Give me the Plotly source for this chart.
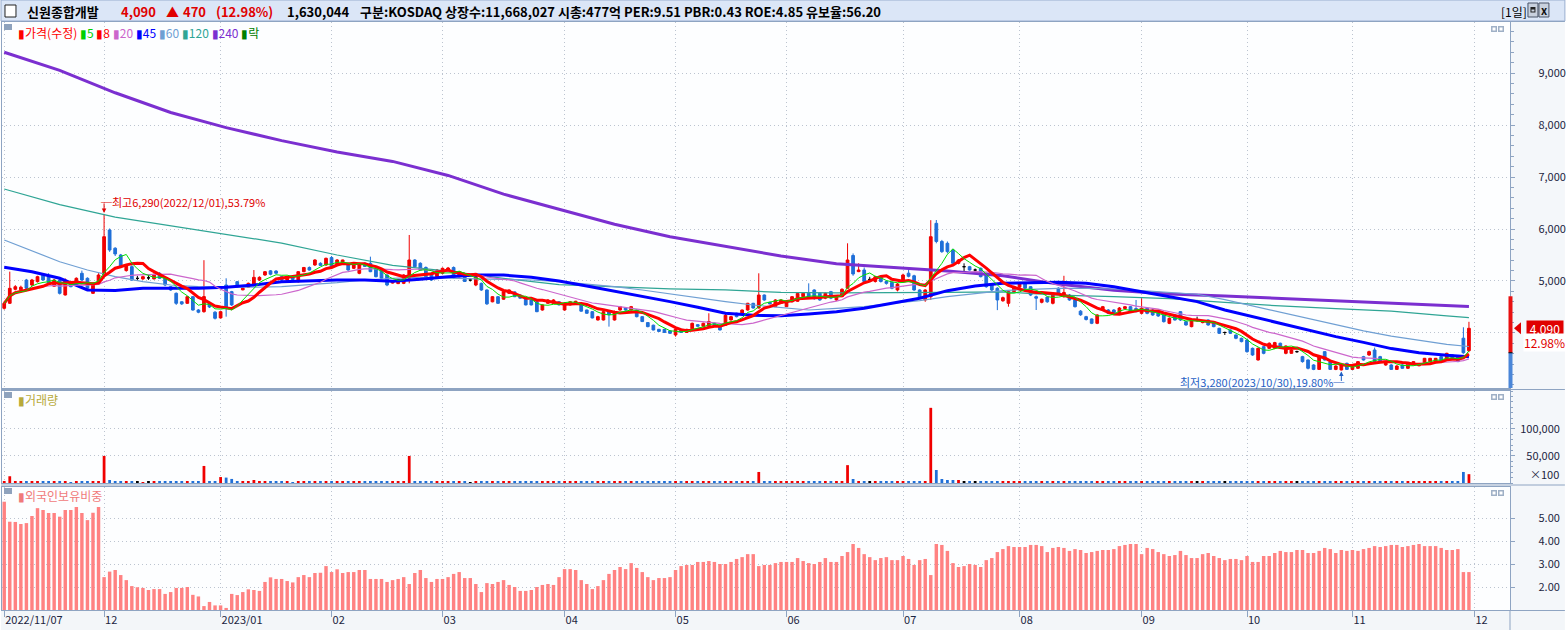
import numpy as np
import pandas as pd
import plotly.graph_objects as go
from plotly.subplots import make_subplots

# KRX trading calendar 2022/11/07 ~ 2023/11/30
holidays = ["2022-12-30", "2023-01-23", "2023-01-24", "2023-03-01", "2023-05-01",
            "2023-05-05", "2023-05-29", "2023-06-06", "2023-08-15", "2023-09-28",
            "2023-09-29", "2023-10-02", "2023-10-03", "2023-10-09"]
dates = pd.bdate_range("2022-11-07", "2023-11-30", freq="C", holidays=holidays)

opens = [
    4475, 4571, 4840, 4830, 5019, 4923, 4987, 5130, 5083, 4900,
    5019, 4731, 4987, 4955, 5148, 5052, 4763, 4955, 5115, 5981,
    5630, 5500, 5200, 5275, 5050, 5040, 5060, 5040, 5148, 5052,
    4890, 4763, 4600, 4571, 4698, 4442, 4410, 4571, 4400, 4290,
    4923, 4795, 4987, 4830, 4880, 4923, 5019, 5115, 5195, 5190,
    5083, 5019, 5083, 4987, 5179, 5260, 5308, 5340, 5308, 5450,
    5308, 5340, 5340, 5244, 5148, 5340, 5340, 5244, 5211, 5115,
    4960, 4950, 4955, 5052, 5404, 5340, 5260, 5148, 5083, 5148,
    5200, 5260, 5083, 5120, 5019, 4923, 4955, 4827, 4600, 4698,
    4650, 4763, 4790, 4730, 4670, 4635, 4600, 4442, 4571, 4571,
    4600, 4442, 4540, 4580, 4571, 4442, 4410, 4250, 4250, 4410,
    4250, 4442, 4480, 4442, 4442, 4314, 4200, 4150, 4070, 4070,
    4040, 3962, 4070, 4010, 4080, 4160, 4130, 4130, 4190, 4150,
    4150, 4250, 4379, 4379, 4442, 4571, 4480, 4730, 4590, 4506,
    4571, 4506, 4600, 4610, 4698, 4763, 4827, 4763, 4670, 4795,
    4635, 4700, 4860, 5490, 5180, 5211, 5030, 4990, 5083, 4990,
    4975, 4827, 5019, 5150, 5100, 4827, 4635, 4698, 6109, 5760,
    5725, 5596, 5340, 5275, 5275, 5211, 5244, 5148, 4920, 4860,
    4620, 4571, 4795, 4880, 4955, 4890, 4698, 4590, 4690, 4571,
    4860, 4698, 4730, 4635, 4420, 4314, 4270, 4186, 4442, 4442,
    4442, 4379, 4470, 4506, 4470, 4378, 4474, 4442, 4410, 4346,
    4186, 4346, 4410, 4218, 4122, 4250, 4200, 4250, 4218, 4090,
    4010, 4058, 3962, 3898, 3866, 3705, 3481, 3737, 3705, 3705,
    3802, 3609, 3609, 3641, 3545, 3481, 3385, 3300, 3641, 3449,
    3300, 3290, 3417, 3300, 3321, 3545, 3577, 3673, 3545, 3385,
    3385, 3300, 3385, 3321, 3404, 3370, 3404, 3449, 3449, 3545,
    3481, 3577, 3545, 3900, 3660]
highs = [
    4600, 5180, 4920, 4910, 5040, 5040, 5100, 5150, 5150, 5040,
    5040, 5050, 5000, 5070, 5200, 5070, 4970, 5150, 6290, 6010,
    5650, 5520, 5320, 5300, 5100, 5100, 5110, 5140, 5170, 5060,
    4900, 4780, 4610, 4710, 4710, 4460, 5400, 4600, 4420, 4420,
    5052, 4810, 5000, 4870, 4970, 5211, 5090, 5190, 5210, 5210,
    5100, 5100, 5100, 5190, 5270, 5280, 5420, 5360, 5450, 5480,
    5420, 5410, 5350, 5320, 5350, 5360, 5468, 5260, 5230, 5130,
    5000, 5040, 5130, 5885, 5420, 5360, 5280, 5160, 5230, 5260,
    5270, 5280, 5190, 5130, 5050, 5090, 4970, 4840, 4710, 4710,
    4810, 4840, 4800, 4740, 4680, 4650, 4610, 4550, 4650, 4650,
    4610, 4590, 4610, 4620, 4580, 4450, 4420, 4330, 4420, 4420,
    4430, 4520, 4490, 4520, 4450, 4320, 4210, 4160, 4080, 4080,
    4050, 4080, 4080, 4080, 4200, 4170, 4200, 4379, 4200, 4160,
    4379, 4330, 4390, 4450, 4580, 4580, 5148, 4740, 4600, 4650,
    4650, 4610, 4710, 4770, 4780, 4955, 4840, 4780, 4780, 4810,
    4720, 4860, 5725, 5530, 5340, 5260, 5080, 5100, 5100, 5010,
    4990, 4960, 5140, 5211, 5120, 4840, 4840, 6170, 6173, 5790,
    5760, 5620, 5420, 5340, 5290, 5240, 5260, 5160, 4940, 4880,
    4700, 4810, 4910, 4970, 4970, 4900, 4720, 4660, 4700, 4780,
    4880, 5100, 4750, 4650, 4440, 4330, 4280, 4360, 4520, 4460,
    4460, 4500, 4520, 4520, 4635, 4667, 4490, 4460, 4420, 4360,
    4300, 4360, 4420, 4230, 4260, 4314, 4250, 4260, 4230, 4100,
    4026, 4070, 3970, 3910, 3880, 3720, 3720, 3750, 3820, 3830,
    3815, 3760, 3690, 3660, 3560, 3490, 3400, 3560, 3650, 3460,
    3380, 3400, 3430, 3365, 3460, 3560, 3660, 3720, 3560, 3460,
    3400, 3380, 3400, 3430, 3460, 3420, 3520, 3520, 3520, 3560,
    3620, 3590, 3560, 4110, 4215]
lows = [
    4450, 4560, 4820, 4810, 4840, 4900, 4970, 5000, 4940, 4890,
    4740, 4720, 4880, 4940, 5000, 4840, 4750, 4940, 5100, 5560,
    5480, 5250, 5180, 5000, 5000, 5020, 5020, 5030, 5040, 4900,
    4810, 4540, 4540, 4560, 4430, 4380, 4390, 4480, 4260, 4280,
    4314, 4520, 4870, 4820, 4870, 4900, 5000, 5100, 5110, 5130,
    5000, 5000, 5010, 4970, 5170, 5200, 5290, 5290, 5290, 5240,
    5290, 5330, 5200, 5230, 5130, 5270, 5170, 5070, 5030, 4900,
    4950, 4940, 4940, 4955, 5260, 5200, 5070, 5000, 5070, 5130,
    5190, 5040, 5070, 4980, 4990, 4900, 4810, 4540, 4590, 4560,
    4640, 4750, 4690, 4660, 4530, 4530, 4400, 4430, 4560, 4560,
    4530, 4430, 4530, 4570, 4410, 4370, 4280, 4240, 4240, 4122,
    4240, 4430, 4430, 4430, 4300, 4210, 4110, 4050, 4020, 4000,
    3980, 3930, 4000, 4000, 4070, 4120, 4120, 4120, 4150, 4050,
    4140, 4240, 4300, 4370, 4430, 4470, 4470, 4620, 4550, 4500,
    4560, 4500, 4590, 4600, 4680, 4690, 4640, 4620, 4650, 4650,
    4620, 4690, 4850, 5100, 5170, 4970, 4990, 4970, 4970, 4930,
    4840, 4800, 5000, 5070, 4810, 4670, 4600, 4635, 5725, 5540,
    5530, 5310, 5320, 5190, 5200, 5150, 5070, 4870, 4800, 4440,
    4600, 4506, 4780, 4860, 4840, 4710, 4442, 4570, 4580, 4550,
    4740, 4680, 4620, 4490, 4330, 4240, 4170, 4170, 4430, 4360,
    4370, 4360, 4460, 4400, 4400, 4360, 4360, 4330, 4310, 4200,
    4170, 4240, 4230, 4140, 4110, 4218, 4186, 4140, 4110, 3980,
    3962, 3980, 3880, 3820, 3620, 3560, 3470, 3590, 3690, 3690,
    3690, 3590, 3600, 3620, 3430, 3300, 3285, 3290, 3470, 3290,
    3285, 3280, 3290, 3290, 3310, 3470, 3560, 3440, 3440, 3370,
    3290, 3290, 3310, 3310, 3390, 3360, 3390, 3440, 3440, 3440,
    3470, 3500, 3440, 3600, 3630]
closes = [
    4571, 4859, 4890, 4880, 4860, 5019, 5083, 5019, 4955, 5019,
    4763, 5019, 4890, 5052, 5019, 4859, 4955, 5115, 5852, 5596,
    5520, 5275, 5308, 5019, 5050, 5083, 5060, 5130, 5052, 4923,
    4827, 4571, 4560, 4698, 4442, 4400, 4700, 4500, 4283, 4410,
    4475, 4540, 4890, 4860, 4955, 5070, 5070, 5179, 5130, 5150,
    5019, 5083, 5030, 5179, 5260, 5211, 5404, 5300, 5436, 5260,
    5404, 5404, 5211, 5308, 5340, 5280, 5179, 5083, 5052, 4923,
    4990, 5030, 5115, 5404, 5275, 5211, 5083, 5019, 5211, 5244,
    5250, 5060, 5180, 4990, 5019, 5083, 4827, 4560, 4698, 4571,
    4795, 4827, 4698, 4670, 4540, 4540, 4410, 4540, 4635, 4635,
    4540, 4571, 4600, 4610, 4420, 4379, 4290, 4314, 4410, 4350,
    4410, 4506, 4442, 4506, 4314, 4220, 4122, 4058, 4030, 4010,
    3994, 4070, 4010, 4070, 4186, 4130, 4186, 4220, 4160, 4058,
    4340, 4314, 4314, 4442, 4571, 4480, 4730, 4635, 4560, 4635,
    4635, 4600, 4698, 4760, 4763, 4700, 4660, 4635, 4763, 4670,
    4710, 4840, 5404, 5135, 5211, 4990, 5030, 5083, 4990, 4955,
    4860, 4940, 5115, 5090, 4827, 4690, 4827, 5852, 5760, 5565,
    5565, 5340, 5404, 5275, 5211, 5211, 5083, 4890, 4827, 4635,
    4680, 4795, 4890, 4955, 4860, 4730, 4670, 4650, 4600, 4763,
    4763, 4780, 4635, 4506, 4350, 4260, 4186, 4347, 4506, 4379,
    4390, 4480, 4506, 4420, 4410, 4474, 4378, 4346, 4327, 4218,
    4282, 4250, 4250, 4154, 4250, 4250, 4236, 4154, 4122, 3994,
    4010, 3994, 3898, 3834, 3641, 3577, 3705, 3609, 3802, 3815,
    3705, 3750, 3673, 3641, 3449, 3321, 3300, 3545, 3481, 3300,
    3365, 3385, 3300, 3353, 3449, 3481, 3641, 3449, 3449, 3449,
    3300, 3365, 3321, 3417, 3449, 3404, 3513, 3513, 3513, 3449,
    3609, 3513, 3449, 3620, 4090]

# volume in units of 100 shares
volumes = [
    3000, 12500, 2600, 2200, 2400, 2000, 2300, 2100, 2500, 2000,
    2600, 2400, 1800, 2000, 2300, 2200, 2000, 2600, 50000, 5500,
    3700, 2800, 2200, 2500, 2000, 1800, 2000, 2200, 2000, 2300,
    1900, 2600, 2000, 2200, 2500, 2300, 31500, 2800, 2400, 11000,
    10000, 7500, 3500, 2200, 2500, 5500, 2500, 2300, 2000, 1900,
    2200, 2000, 1800, 2400, 2300, 2000, 2500, 2100, 2300, 2600,
    2200, 2000, 2400, 1900, 2300, 2000, 2500, 2200, 2100, 2400,
    1900, 2000, 2300, 50000, 2800, 2400, 2200, 2000, 2300, 2100,
    2000, 2400, 2000, 2200, 1800, 2300, 2100, 2600, 2200, 2000,
    2300, 2100, 1900, 2000, 2200, 2100, 2500, 2000, 2200, 2100,
    2000, 2300, 2100, 1900, 2400, 2200, 2000, 2100, 2500, 2600,
    2300, 2200, 1900, 2100, 2200, 2000, 2100, 2300, 1900, 2000,
    2100, 2300, 1900, 2000, 2400, 2000, 2100, 2600, 1900, 2100,
    2700, 2200, 2000, 2100, 2500, 2300, 20400, 3000, 2200, 2300,
    2100, 2000, 2200, 2300, 2100, 2600, 2200, 2000, 2100, 2000,
    1900, 2300, 33000, 7400, 2600, 2500, 2000, 2200, 2100, 2000,
    2100, 2200, 2300, 2200, 2500, 2100, 2300, 138900, 24000, 7400,
    5600, 5600, 5600, 3700, 2500, 2500, 2400, 2300, 2200, 3700,
    2200, 2300, 2100, 2000, 2200, 2100, 2300, 2000, 1900, 2200,
    2000, 2400, 2100, 2200, 2000, 2100, 1900, 2300, 2200, 2000,
    2100, 2000, 2200, 2100, 3700, 2300, 2100, 2000, 2200, 2100,
    2000, 2200, 2100, 1900, 2000, 2100, 2000, 2200, 2100, 2000,
    1900, 2100, 2000, 2200, 2400, 2100, 2300, 2000, 2200, 2100,
    2000, 2100, 2000, 2200, 2300, 2400, 2200, 2500, 2100, 2200,
    2000, 2300, 2100, 2200, 2000, 2100, 2200, 2300, 2000, 2100,
    2000, 2200, 2100, 2000, 2200, 2100, 2300, 2200, 2100, 2000,
    2300, 2100, 2200, 20400, 16300]

# foreign ownership ratio (%)
foreign = [
    5.71, 4.84, 4.83, 4.74, 4.78, 5.09, 5.43, 5.35, 5.22, 5.22,
    5.06, 5.35, 5.35, 5.48, 5.22, 4.91, 5.23, 5.48, 2.43, 2.67,
    2.74, 2.52, 2.30, 2.04, 1.99, 1.96, 1.87, 1.91, 1.91, 1.70,
    1.78, 1.96, 1.96, 2.00, 1.66, 1.59, 1.17, 1.35, 1.20, 1.20,
    1.09, 1.70, 1.65, 1.78, 1.90, 1.87, 1.83, 2.22, 2.42, 2.35,
    2.35, 2.26, 2.20, 2.43, 2.52, 2.43, 2.61, 2.62, 2.91, 2.65,
    2.77, 2.61, 2.65, 2.65, 2.74, 2.74, 2.35, 2.35, 2.35, 2.22,
    2.30, 2.35, 2.43, 2.13, 2.61, 2.74, 2.39, 2.22, 2.35, 2.35,
    2.43, 2.57, 2.65, 2.39, 2.39, 2.13, 1.78, 2.17, 2.13, 2.22,
    2.30, 2.09, 2.00, 1.83, 1.83, 1.87, 2.00, 2.09, 2.13, 2.09,
    2.43, 2.78, 2.78, 2.74, 2.30, 2.13, 1.91, 2.04, 2.30, 2.57,
    2.74, 2.87, 2.78, 3.04, 2.83, 2.65, 2.43, 2.30, 2.39, 2.39,
    2.43, 2.74, 2.91, 2.96, 2.96, 3.09, 3.09, 3.13, 3.09, 3.00,
    3.00, 3.09, 3.22, 3.30, 3.43, 3.43, 2.91, 2.96, 2.96, 3.04,
    3.09, 3.09, 3.09, 3.26, 3.13, 3.04, 3.00, 3.09, 3.26, 3.09,
    3.09, 3.35, 3.52, 3.87, 3.70, 3.43, 3.30, 3.17, 3.26, 3.30,
    3.17, 3.17, 3.35, 3.22, 2.96, 3.17, 3.22, 2.52, 3.87, 3.83,
    3.57, 3.04, 2.87, 2.91, 3.00, 2.96, 2.87, 3.17, 3.26, 3.52,
    3.65, 3.78, 3.74, 3.74, 3.74, 3.83, 3.83, 3.78, 3.52, 3.70,
    3.74, 3.70, 3.57, 3.65, 3.61, 3.48, 3.52, 3.57, 3.61, 3.61,
    3.65, 3.78, 3.83, 3.87, 3.87, 3.43, 3.70, 3.65, 3.52, 3.43,
    3.35, 3.39, 3.57, 3.39, 3.26, 3.26, 3.43, 3.48, 3.35, 3.26,
    3.17, 3.22, 3.22, 3.17, 3.35, 3.09, 3.09, 3.35, 3.35, 3.48,
    3.57, 3.52, 3.52, 3.61, 3.61, 3.48, 3.48, 3.57, 3.70, 3.65,
    3.48, 3.61, 3.57, 3.61, 3.57, 3.65, 3.70, 3.78, 3.74, 3.78,
    3.83, 3.83, 3.74, 3.78, 3.83, 3.87, 3.78, 3.78, 3.78, 3.70,
    3.61, 3.61, 3.65, 2.65, 2.65]

# long moving averages (every 5th / 10th session)
ma45 = [5264, 5179, 5052, 4827, 4815, 4859, 4859, 4859, 4880, 4923,
        4987, 5006, 5019, 5019, 4994, 5032, 5083, 5115, 5115, 5070,
        5000, 4904, 4808, 4698, 4603, 4494, 4379, 4340, 4333, 4366,
        4410, 4474, 4571, 4667, 4814, 4904, 4955, 4968, 4974, 4955,
        4890, 4795, 4698, 4603, 4442, 4314, 4186, 4058, 3930, 3820,
        3700, 3620, 3570, 3545]
ma60 = [5788, 5577, 5371, 5211, 5083, 4987, 4923, 4890, 4880, 4880,
        4890, 4923, 4968, 5019, 5052, 5070, 5052, 5040, 5032, 5019,
        4987, 4942, 4890, 4827, 4750, 4680, 4603, 4538, 4494, 4442,
        4474, 4506, 4571, 4622, 4698, 4763, 4814, 4840, 4859, 4859,
        4846, 4814, 4776, 4745, 4640, 4520, 4400, 4280, 4160, 4040,
        3940, 3860, 3780, 3740]
ma120 = [6770, 6470, 6230, 6060, 5900, 5730, 5500, 5300, 5190, 5050,
         4930, 4890, 4850, 4830, 4780, 4770, 4770, 4780, 4790, 4730,
         4700, 4660, 4590, 4520, 4470, 4420, 4330, 4295]
ma240 = [9400, 9050, 8620, 8240, 7950, 7700, 7480, 7300, 7030, 6670,
         6380, 6090, 5850, 5660, 5480, 5330, 5255, 5190, 5100, 4940,
         4820, 4750, 4710, 4665, 4630, 4580, 4540, 4510]

header_items = [
    (24, "신원종합개발", "#000000"),
    (118, "4,090", "#e00000"),
    (163, "▲", "#e00000"),
    (180, "470", "#e00000"),
    (213, "(12.98%)", "#e00000"),
    (285, "1,630,044", "#000000"),
    (358, "구분:KOSDAQ 상장수:11,668,027 시총:477억 PER:9.51 PBR:0.43 ROE:4.85 유보율:56.20", "#000000"),
]
legend_items = [("가격(수정)", "#ff0000"), ("5", "#00d000"), ("8", "#ff0000"), ("20", "#cc66cc"),
                ("45", "#0000ff"), ("60", "#6f9fd3"), ("120", "#2fa595"), ("240", "#7b2fd0"),
                ("락", "#008000")]

n = len(dates)
assert n == len(opens) == len(highs) == len(lows) == len(closes) == len(volumes) == len(foreign)

UP, DOWN, FLAT = "#f00000", "#1f6fd8", "#000000"
LINE = "#8ea4c2"
TXT = "#1c2541"
FONT = "Noto Sans CJK KR, sans-serif"
PRICE_RANGE = [2942, 9981]

xs = list(range(n))
cs = pd.Series(closes, dtype=float)
ma5 = cs.rolling(5, min_periods=1).mean()
ma8 = cs.rolling(8, min_periods=1).mean()
ma20 = cs.rolling(20, min_periods=1).mean()
idx5 = list(range(0, n, 5)) + [n - 1]
idx10 = list(range(0, n, 10)) + [n - 1]

direction = ["up" if c > o else ("down" if c < o else "flat") for o, c in zip(opens, closes)]
dir_color = {"up": UP, "down": DOWN, "flat": FLAT}
bar_colors = [dir_color[d] for d in direction]

# month ticks
tick_pos, tick_txt = [], []
for i, d in enumerate(dates):
    if i == 0:
        tick_pos.append(i)
        tick_txt.append(d.strftime("%Y/%m/%d"))
    elif d.month != dates[i - 1].month:
        tick_pos.append(i)
        tick_txt.append(d.strftime("%Y/%m") if d.month == 1 else d.strftime("%m"))
tick_pos.append(n)
tick_txt.append((dates[-1] + pd.offsets.MonthBegin(1)).strftime("%m"))

fig = make_subplots(rows=3, cols=1, shared_xaxes=True, vertical_spacing=0.0)

for key in ("up", "down", "flat"):
    sel = [i for i in xs if direction[i] == key]
    col = dir_color[key]
    fig.add_trace(go.Candlestick(
        x=sel, open=[opens[i] for i in sel], high=[highs[i] for i in sel],
        low=[lows[i] for i in sel], close=[closes[i] for i in sel],
        increasing=dict(line=dict(color=col, width=1), fillcolor=col),
        decreasing=dict(line=dict(color=col, width=1), fillcolor=col),
        whiskerwidth=0, hoverinfo="skip", showlegend=False), row=1, col=1)


def ma_line(x, y, color, width):
    return go.Scatter(x=x, y=y, mode="lines", line=dict(color=color, width=width),
                      hoverinfo="skip", showlegend=False)


fig.add_trace(ma_line(idx10, ma240, "#7b2fd0", 3), 1, 1)
fig.add_trace(ma_line(idx10, ma120, "#2fa595", 1.2), 1, 1)
fig.add_trace(ma_line(idx5, ma60, "#6f9fd3", 1.2), 1, 1)
fig.add_trace(ma_line(idx5, ma45, "#0000ff", 3), 1, 1)
fig.add_trace(ma_line(xs, ma20, "#cc66cc", 1.2), 1, 1)
fig.add_trace(ma_line(xs, ma8, "#ff0000", 3), 1, 1)
fig.add_trace(ma_line(xs, ma5, "#00e000", 1), 1, 1)

fig.add_trace(go.Bar(x=xs, y=volumes, width=0.5, marker=dict(color=bar_colors, line=dict(width=0)),
                     hoverinfo="skip", showlegend=False), row=2, col=1)
fig.add_trace(go.Bar(x=xs, y=foreign, width=0.62, marker=dict(color="#ff8282", line=dict(width=0)),
                     hoverinfo="skip", showlegend=False), row=3, col=1)

grid = dict(showgrid=True, gridcolor="#bcc4d0", griddash="1px,3px", gridwidth=1)
frame = dict(showline=True, mirror=True, linecolor=LINE, linewidth=1, zeroline=False)
for r in (1, 2, 3):
    fig.update_xaxes(row=r, col=1, range=[-0.4, 271.4], tickmode="array", tickvals=tick_pos,
                     ticktext=tick_txt, showticklabels=(r == 3), ticks="outside" if r == 3 else "",
                     ticklen=6, tickcolor=LINE, ticklabelposition="outside right",
                     tickfont=dict(size=11, color=TXT), rangeslider_visible=False, **grid, **frame)

FS = "\u2007"
price_ticks = [4000, 5000, 6000, 7000, 8000, 9000]
axis_common = dict(side="right", tickmode="array", ticks="outside", ticklen=4, tickcolor=LINE,
                   tickfont=dict(size=11, color=TXT))
fig.update_yaxes(row=1, col=1, range=PRICE_RANGE, tickvals=price_ticks,
                 ticktext=[""] + [FS * 2 + f"{v:,}" for v in price_ticks[1:]], ticklabelstandoff=9,
                 minor=dict(ticks="outside", ticklen=3, dtick=200, tickcolor=LINE, showgrid=False),
                 **axis_common, **grid, **frame)
fig.update_yaxes(row=2, col=1, range=[0, 170000], tickvals=[50000, 100000],
                 ticktext=[FS + "50,000", "100,000"], ticklabelstandoff=3,
                 minor=dict(ticks="outside", ticklen=2, dtick=10000, tickcolor=LINE, showgrid=False),
                 **axis_common, **grid, **frame)
fig.update_yaxes(row=3, col=1, range=[1.0, 6.35], tickvals=[2, 3, 4, 5],
                 ticktext=[FS * 3 + f"{v:.2f}" for v in [2, 3, 4, 5]], ticklabelstandoff=3,
                 **axis_common, **grid, **frame)

W, H = 1567, 630
ML, MR, MT, MB = 1, 55, 22, 20
PRICE_TOP, PRICE_BOTTOM = 22, 388


def px(xp):
    return (xp - ML) / (W - ML - MR)


def py(yp):
    return (H - MB - yp) / (H - MT - MB)


def price_y(v):
    # price value -> paper y inside the price panel
    frac = (v - PRICE_RANGE[0]) / (PRICE_RANGE[1] - PRICE_RANGE[0])
    return py(PRICE_BOTTOM) + frac * (1.0 - py(PRICE_BOTTOM))


fig.update_layout(
    width=W, height=H, margin=dict(l=ML, r=MR, t=MT, b=MB),
    paper_bgcolor="#ffffff", plot_bgcolor="#fdfeff", showlegend=False,
    font=dict(family=FONT, size=11, color=TXT),
    yaxis=dict(domain=[py(PRICE_BOTTOM), 1.0]),
    yaxis2=dict(domain=[py(483), py(391)]),
    yaxis3=dict(domain=[0.0, py(487)]),
)

shapes = []
anns = []

# right axis zone and bottom strip backgrounds
shapes.append(dict(type="rect", xref="paper", yref="paper", x0=1, x1=px(W), y0=py(610), y1=py(21),
                   fillcolor="#f4f7fa", line=dict(width=0), layer="below"))
shapes.append(dict(type="rect", xref="paper", yref="paper", x0=px(0), x1=px(W), y0=py(H), y1=py(610),
                   fillcolor="#f3f6f9", line=dict(width=0), layer="below"))

# header bar
shapes.append(dict(type="rect", xref="paper", yref="paper", x0=px(0), x1=px(W), y0=py(21), y1=py(0),
                   fillcolor="#dbe6f7", line=dict(color="#9aaed0", width=1), layer="below"))
shapes.append(dict(type="rect", xref="paper", yref="paper", x0=px(4), x1=px(15), y0=py(17), y1=py(5),
                   fillcolor="#ffffff", line=dict(color="#222222", width=1)))
for xp, txt, col in header_items:
    anns.append(dict(xref="paper", yref="paper", x=px(xp), y=py(11.5), xanchor="left", yanchor="middle",
                     text=f"<b>{txt}</b>", showarrow=False, font=dict(size=13, color=col)))
anns.append(dict(xref="paper", yref="paper", x=px(1501), y=py(11), xanchor="left", yanchor="middle",
                 text="[1일]", showarrow=False, font=dict(size=12, color="#000000")))
for bx in (1530, 1541):
    shapes.append(dict(type="rect", xref="paper", yref="paper", x0=px(bx), x1=px(bx + 10),
                       y0=py(17), y1=py(3), fillcolor="#c9d1de", line=dict(color="#4a5468", width=1)))
shapes.append(dict(type="rect", xref="paper", yref="paper", x0=px(1532.5), x1=px(1537.5),
                   y0=py(12.5), y1=py(7), fillcolor="#222222", line=dict(width=0)))
shapes.append(dict(type="rect", xref="paper", yref="paper", x0=px(1533.5), x1=px(1536.5),
                   y0=py(11.5), y1=py(9.5), fillcolor="#c9d1de", line=dict(width=0)))
anns.append(dict(xref="paper", yref="paper", x=px(1546), y=py(10), xanchor="center", yanchor="middle",
                 text="<b>x</b>", showarrow=False, borderpad=0, font=dict(size=11, color="#111111")))

# panel separators
for yp in (21.5, 389.5, 485, 610.5):
    shapes.append(dict(type="line", xref="paper", yref="paper", x0=px(0), x1=px(W), y0=py(yp), y1=py(yp),
                       line=dict(color=LINE, width=1)))
shapes.append(dict(type="line", xref="paper", yref="paper", x0=1, x1=1, y0=py(H), y1=py(610),
                   line=dict(color=LINE, width=1)))

# panel icons and buttons
for top in (24, 392, 488):
    shapes.append(dict(type="rect", xref="paper", yref="paper", x0=px(3), x1=px(11), y0=py(top + 6),
                       y1=py(top), fillcolor="#8ea2bd", line=dict(width=0)))
    for bx in (1493, 1500):
        shapes.append(dict(type="rect", xref="paper", yref="paper", x0=px(bx), x1=px(bx + 6),
                           y0=py(top + 8), y1=py(top + 2), fillcolor="#9fb0c6", line=dict(width=0)))
        shapes.append(dict(type="rect", xref="paper", yref="paper", x0=px(bx + 1.5), x1=px(bx + 4.5),
                           y0=py(top + 6.5), y1=py(top + 3.5), fillcolor="#ffffff", line=dict(width=0)))

legend_html = " ".join(f"<span style='color:{c}'>▮{t}</span>" for t, c in legend_items)
anns.append(dict(xref="paper", yref="paper", x=px(15), y=py(32), xanchor="left", yanchor="middle",
                 text=legend_html, showarrow=False, font=dict(size=12)))
anns.append(dict(xref="paper", yref="paper", x=px(15), y=py(400), xanchor="left", yanchor="middle",
                 text="▮거래량", showarrow=False, font=dict(size=12, color="#b8aa3a")))
anns.append(dict(xref="paper", yref="paper", x=px(15), y=py(495), xanchor="left", yanchor="middle",
                 text="▮외국인보유비중", showarrow=False, font=dict(size=12, color="#f07a7a")))

# high / low markers
i_hi = int(np.argmax(highs))
i_lo = int(np.argmin(lows))
last = closes[-1]
hi_txt = f"최고{highs[i_hi]:,}({dates[i_hi]:%Y/%m/%d}),{(highs[i_hi] / last - 1) * 100:.2f}%"
lo_txt = f"최저{lows[i_lo]:,}({dates[i_lo]:%Y/%m/%d}),{(1 - lows[i_lo] / last) * 100:.2f}%"
anns.append(dict(x=i_hi, y=highs[i_hi], xref="x", yref="y", text="", showarrow=True, arrowhead=2,
                 arrowsize=0.9, arrowwidth=1, arrowcolor="#e00000", ax=0, ay=-12, standoff=1))
anns.append(dict(x=i_hi, y=highs[i_hi], xref="x", yref="y", text="─" + hi_txt, showarrow=False,
                 xanchor="left", yanchor="middle", yshift=12, xshift=-5, font=dict(size=11, color="#e00000")))
anns.append(dict(x=i_lo, y=lows[i_lo], xref="x", yref="y", text="", showarrow=True, arrowhead=2,
                 arrowsize=0.9, arrowwidth=1, arrowcolor="#1f5fc4", ax=0, ay=12, standoff=1))
anns.append(dict(x=i_lo, y=lows[i_lo], xref="x", yref="y", text=lo_txt + "─", showarrow=False,
                 xanchor="right", yanchor="middle", yshift=-12, xshift=5, font=dict(size=11, color="#1f5fc4")))

# price range bar on the axis (limit range around previous close) and current price tag
prev = closes[-2]
upper = prev * 1.3
shapes.append(dict(type="rect", xref="paper", yref="paper", x0=px(1510.5), x1=px(1514.5),
                   y0=price_y(prev), y1=price_y(upper), fillcolor="#e81010", line=dict(width=0)))
shapes.append(dict(type="rect", xref="paper", yref="paper", x0=px(1510.5), x1=px(1514.5),
                   y0=price_y(PRICE_RANGE[0]), y1=price_y(prev), fillcolor="#4a86d8", line=dict(width=0)))
shapes.append(dict(type="line", xref="paper", yref="paper", x0=px(1510.5), x1=px(1514.5),
                   y0=price_y(prev), y1=price_y(prev), line=dict(color="#000000", width=1)))
# left-pointing marker at the last price
tip_y = price_y(last)
half = 6 / (H - MT - MB)
shapes.append(dict(type="path", xref="paper", yref="paper",
                   path=f"M {px(1516)},{tip_y} L {px(1523)},{tip_y + half} L {px(1523)},{tip_y - half} Z",
                   fillcolor="#e00000", line=dict(width=0)))
chg = (last / prev - 1) * 100
anns.append(dict(xref="paper", yref="y", x=px(1547), y=last, xanchor="center", yanchor="middle",
                 text=f"{last:,}", showarrow=False, bgcolor="#e00000", width=36, height=14, borderpad=0,
                 font=dict(size=12, color="#ffffff")))
anns.append(dict(xref="paper", yref="y", x=px(1547), y=last, xanchor="center", yanchor="middle", yshift=-14,
                 text=f"{chg:.2f}%", showarrow=False, bgcolor="#ffffff", borderpad=0,
                 font=dict(size=12, color="#e00000")))
anns.append(dict(xref="paper", yref="y2", x=px(1563), y=16500, xanchor="right", text="×100", showarrow=False,
                 font=dict(size=11, color=TXT)))

fig.update_layout(shapes=shapes, annotations=anns)

fig.write_html("out.html", config={"displayModeBar": False},
               post_script="document.body.style.margin='0';document.body.style.overflow='hidden';")
